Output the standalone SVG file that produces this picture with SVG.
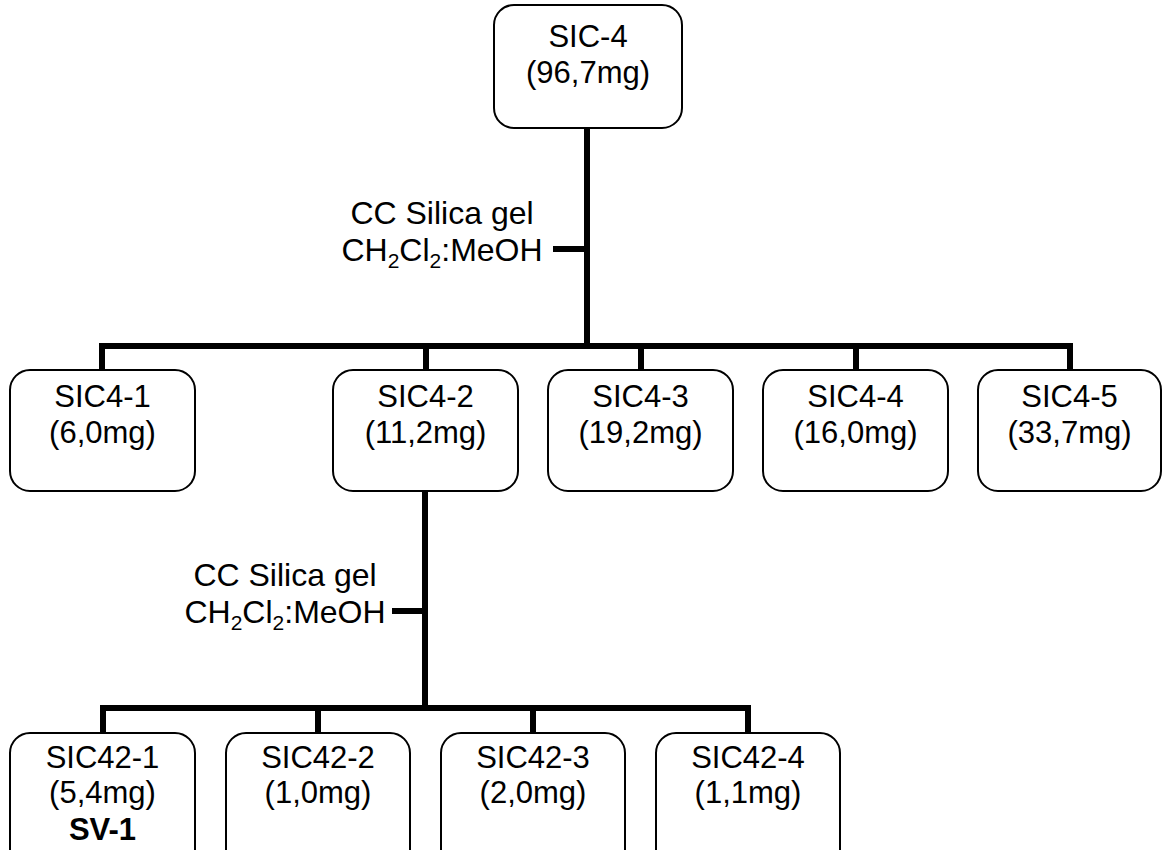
<svg xmlns="http://www.w3.org/2000/svg" width="1163" height="850" viewBox="0 0 1163 850">
<style>
.box{fill:#fff;stroke:#000;stroke-width:2}
.t{font-family:"Liberation Sans",Arial,sans-serif;font-size:31px;fill:#000;text-anchor:middle}
.l{font-size:32px}
.b{font-weight:bold}
.c{stroke:#000;stroke-width:6;fill:none;stroke-linecap:square}
.sub{font-size:21px}
</style>
<rect width="1163" height="850" fill="#fff"/>
<g id="connectors">
<path class="c" d="M587 128V346M556 249H587M102 346H1070M102 346V370M426 346V370M641 346V370M856 346V370M1070 346V370"/>
<path class="c" d="M425 491V708M395 611H425M103 708H748M103 708V733M318 708V733M533 708V733M748 708V733"/>
</g>
<g id="label1">
<text class="t l" x="442" y="224">CC Silica gel</text>
<text class="t l" x="442" y="261">CH<tspan class="sub" dy="7">2</tspan><tspan dy="-7">Cl</tspan><tspan class="sub" dy="7">2</tspan><tspan dy="-7">:MeOH</tspan></text>
</g>
<g id="label2">
<text class="t l" x="285" y="586">CC Silica gel</text>
<text class="t l" x="285" y="623">CH<tspan class="sub" dy="7">2</tspan><tspan dy="-7">Cl</tspan><tspan class="sub" dy="7">2</tspan><tspan dy="-7">:MeOH</tspan></text>
</g>
<g id="SIC-4">
<rect class="box" x="494" y="5" width="188" height="123" rx="20"/>
<text class="t" x="588" y="47">SIC-4</text>
<text class="t" x="588" y="83">(96,7mg)</text>
</g>
<g id="SIC4-1">
<rect class="box" x="10" y="370" width="185" height="121" rx="20"/>
<text class="t" x="102.5" y="407">SIC4-1</text>
<text class="t" x="102.5" y="443">(6,0mg)</text>
</g>
<g id="SIC4-2">
<rect class="box" x="333" y="370" width="185" height="121" rx="20"/>
<text class="t" x="425.5" y="407">SIC4-2</text>
<text class="t" x="425.5" y="443">(11,2mg)</text>
</g>
<g id="SIC4-3">
<rect class="box" x="548" y="370" width="185" height="121" rx="20"/>
<text class="t" x="640.5" y="407">SIC4-3</text>
<text class="t" x="640.5" y="443">(19,2mg)</text>
</g>
<g id="SIC4-4">
<rect class="box" x="763" y="370" width="185" height="121" rx="20"/>
<text class="t" x="855.5" y="407">SIC4-4</text>
<text class="t" x="855.5" y="443">(16,0mg)</text>
</g>
<g id="SIC4-5">
<rect class="box" x="978" y="370" width="183" height="121" rx="20"/>
<text class="t" x="1069.5" y="407">SIC4-5</text>
<text class="t" x="1069.5" y="443">(33,7mg)</text>
</g>
<g id="SIC42-1">
<rect class="box" x="10" y="733" width="185" height="140" rx="20"/>
<text class="t" x="102.5" y="768">SIC42-1</text>
<text class="t" x="102.5" y="803">(5,4mg)</text>
<text class="t b" x="102.5" y="840">SV-1</text>
</g>
<g id="SIC42-2">
<rect class="box" x="226" y="733" width="184" height="140" rx="20"/>
<text class="t" x="318" y="768">SIC42-2</text>
<text class="t" x="318" y="803">(1,0mg)</text>
</g>
<g id="SIC42-3">
<rect class="box" x="441" y="733" width="184" height="140" rx="20"/>
<text class="t" x="533" y="768">SIC42-3</text>
<text class="t" x="533" y="803">(2,0mg)</text>
</g>
<g id="SIC42-4">
<rect class="box" x="656" y="733" width="184" height="140" rx="20"/>
<text class="t" x="748" y="768">SIC42-4</text>
<text class="t" x="748" y="803">(1,1mg)</text>
</g>
</svg>
